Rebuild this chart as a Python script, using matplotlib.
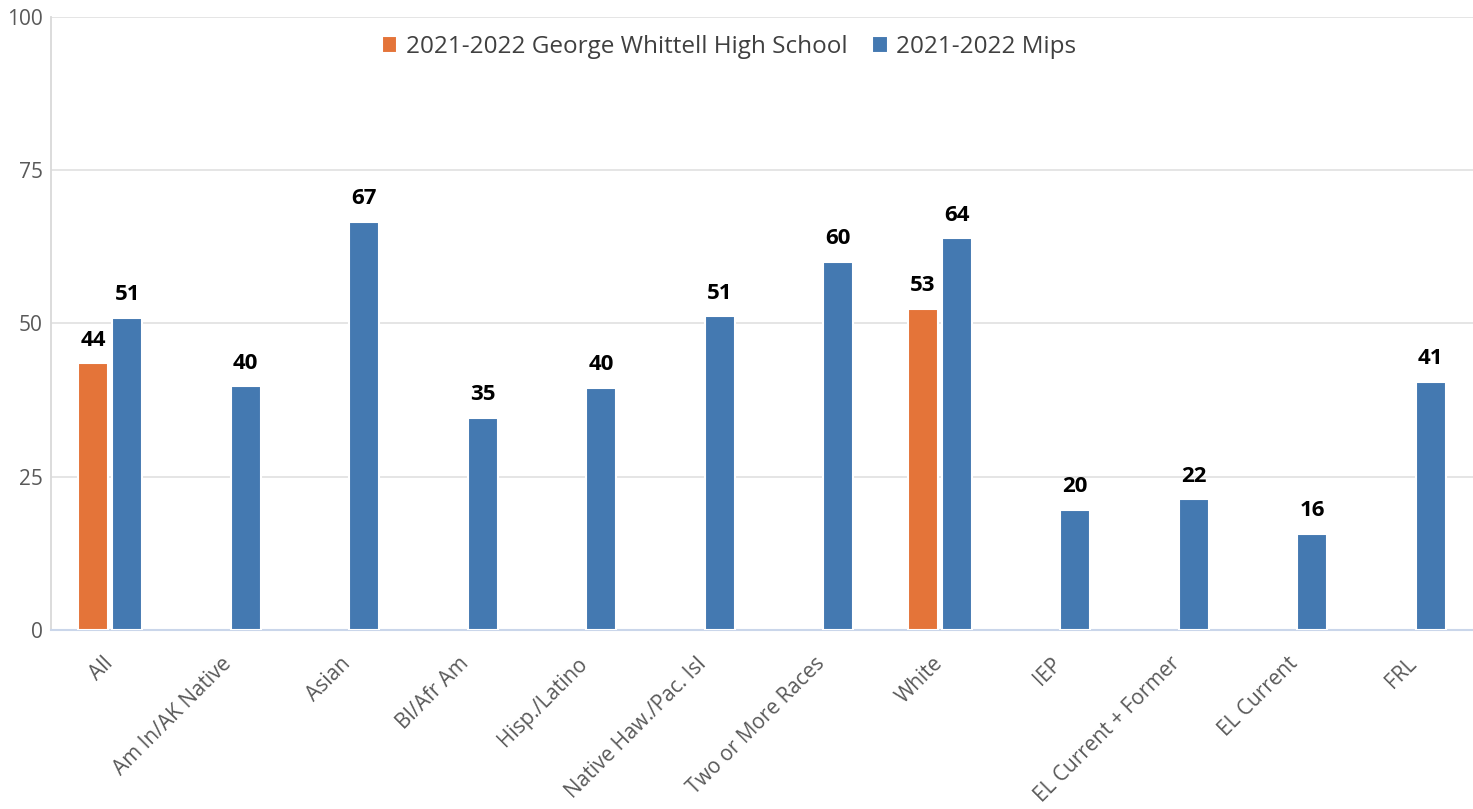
import matplotlib.pyplot as plt
import numpy as np

categories = [
    "All", "Am In/AK Native", "Asian", "Bl/Afr Am", "Hisp./Latino",
    "Native Haw./Pac. Isl", "Two or More Races", "White", "IEP",
    "EL Current + Former", "EL Current", "FRL",
]
# None where the school has no bar
school = [43.5, None, None, None, None, None, None, 52.4, None, None, None, None]
school_labels = ["44", "53"]
mips = [50.9, 39.8, 66.6, 34.6, 39.5, 51.2, 60.1, 63.9, 19.6, 21.3, 15.7, 40.5]
mips_labels = ["51", "40", "67", "35", "40", "51", "60", "64", "20", "22", "16", "41"]
series_names = ["2021-2022 George Whittell High School", "2021-2022 Mips"]

orange = "#E47439"
blue = "#4479B1"

plt.rcParams["font.family"] = ["Open Sans", "DejaVu Sans"]

fig = plt.figure(figsize=(14.73, 8.09), dpi=100)
ax = fig.add_axes([51 / 1473, 1 - 630 / 809, 1 - 51 / 1473, (630 - 17) / 809])

x = np.arange(len(categories))
w = 0.25
off = 0.143

sx = [i for i, v in enumerate(school) if v is not None]
sv = [v for v in school if v is not None]
b1 = ax.bar(np.array(sx) - off, sv, w, color=orange, edgecolor="white",
            linewidth=1.5, label=series_names[0], zorder=3)
b2 = ax.bar(x + off, mips, w, color=blue, edgecolor="white",
            linewidth=1.5, label=series_names[1], zorder=3)

for bars, vals, labs in ((b1, sv, school_labels), (b2, mips, mips_labels)):
    for rect, v, t in zip(bars, vals, labs):
        ax.annotate(t, (rect.get_x() + rect.get_width() / 2, v),
                    xytext=(0, 9), textcoords="offset points",
                    ha="center", va="bottom", fontsize=16,
                    fontweight="bold", color="black")

ax.set_ylim(0, 100)
ax.set_xlim(-0.5, len(categories) - 0.5)
ax.set_yticks([0, 25, 50, 75, 100])
ax.yaxis.grid(True, color="#e3e3e3", linewidth=1.3, zorder=0)
ax.set_axisbelow(True)
ax.set_xticks(x)
ax.set_xticklabels(categories, rotation=45, ha="right", va="center",
                   rotation_mode="anchor")
ax.tick_params(axis="both", length=0, labelsize=15, labelcolor="#595959")
ax.tick_params(axis="x", pad=22)
ax.tick_params(axis="y", pad=6)

for s in ("top", "right"):
    ax.spines[s].set_visible(False)
ax.spines["left"].set_color("#d9d9d9")
ax.spines["left"].set_linewidth(1.3)
ax.spines["bottom"].set_color("#cad6ea")
ax.spines["bottom"].set_linewidth(1.5)

fig.legend(handles=[b1, b2], loc="center", bbox_to_anchor=(729 / 1473, 1 - 47 / 809),
           ncol=2, frameon=False, fontsize=17.5, handlelength=0.65, handleheight=0.65,
           handletextpad=0.35, columnspacing=1.0, labelcolor="#404040")

fig.savefig("out.png", dpi=100, facecolor="white")
